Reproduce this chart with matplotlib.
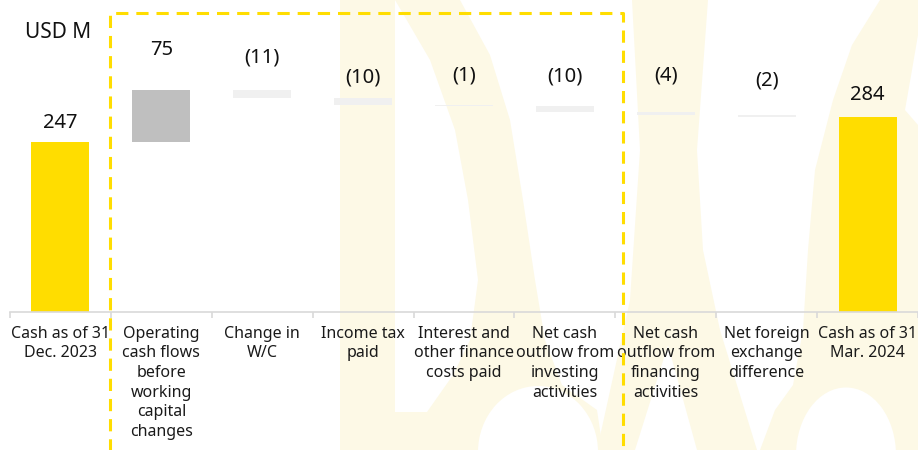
import matplotlib
matplotlib.use("Agg")
import matplotlib.pyplot as plt
from matplotlib.patches import Polygon, Ellipse
import numpy as np

plt.rcParams['font.family'] = ['Noto Sans', 'DejaVu Sans']

# ---------------- data ----------------
categories = ["Cash as of 31\nDec. 2023",
              "Operating\ncash flows\nbefore\nworking\ncapital\nchanges",
              "Change in\nW/C",
              "Income tax\npaid",
              "Interest and\nother finance\ncosts paid",
              "Net cash\noutflow from\ninvesting\nactivities",
              "Net cash\noutflow from\nfinancing\nactivities",
              "Net foreign\nexchange\ndifference",
              "Cash as of 31\nMar. 2024"]
values = [247, 75, -11, -10, -1, -10, -4, -2, 284]
kinds = ["total", "up", "down", "down", "down", "down", "down", "down", "total"]
value_labels = ["247", "75", "(11)", "(10)", "(1)", "(10)", "(4)", "(2)", "284"]

# ---------------- style ----------------
W, H, DPI = 918, 450, 100
YELLOW = "#FFDD00"
GREY = "#BFBFBF"
LIGHT = "#F0F0F0"
WM = "#FDF9E6"
label_offsets_px = [19, 40, 33, 21, 29, 29, 37, 35, 22]

fig = plt.figure(figsize=(W / DPI, H / DPI), dpi=DPI)

# background watermark axes (pixel coordinates, y downwards)
bg = fig.add_axes([0, 0, 1, 1], zorder=0)
bg.set_xlim(0, W)
bg.set_ylim(H, 0)
bg.axis("off")
left_letter = [(340, 0), (460, 0), (490, 55), (510, 120), (523, 200), (535, 280),
               (545, 340), (562, 385), (597, 410), (603, 450), (340, 450)]
gap = [(395, 0), (430, 60), (455, 130), (468, 200), (478, 280), (470, 340),
       (453, 375), (427, 412), (395, 412)]
a_letter = [(632, 0), (708, 0), (697, 150), (703, 250), (720, 330), (757, 450),
            (697, 450), (668, 345), (635, 450), (597, 450), (630, 300), (640, 150)]
s_letter = [(880, 0), (918, 0), (918, 450), (760, 450), (775, 410), (793, 385),
            (803, 330), (808, 250), (815, 170), (833, 100), (852, 45)]
s_inner = [(918, 35), (912, 70), (905, 110), (918, 125)]
for poly in (left_letter, a_letter, s_letter):
    bg.add_patch(Polygon(poly, closed=True, facecolor=WM, edgecolor="none"))
bg.add_patch(Polygon(gap, closed=True, facecolor="white", edgecolor="none"))
bg.add_patch(Polygon(s_inner, closed=True, facecolor="white", edgecolor="none"))
bg.add_patch(Ellipse((538, 452), 120, 132, facecolor="white", edgecolor="none"))
bg.add_patch(Ellipse((846, 455), 100, 135, facecolor="white", edgecolor="none"))

# main axes
ax = fig.add_axes([10 / W, (H - 312) / H, 908 / W, 312 / H], zorder=1)
ax.patch.set_alpha(0)
n = len(values)
x = np.arange(n)
bottoms, heights, colors = [], [], []
running = 0
for v, k in zip(values, kinds):
    if k == "total":
        bottoms.append(0); heights.append(v); colors.append(YELLOW); running = v
    elif k == "up":
        bottoms.append(running); heights.append(v); colors.append(GREY); running += v
    else:
        bottoms.append(running + v); heights.append(-v); colors.append(LIGHT); running += v
ax.bar(x, heights, bottom=bottoms, width=0.575, color=colors, edgecolor="none")

ax.set_xlim(-0.5, n - 0.5)
ax.set_ylim(0, 312 / 0.688)
for i in range(n):
    top = bottoms[i] + heights[i]
    ax.annotate(value_labels[i], (x[i], top), xytext=(0, label_offsets_px[i] * 72 / DPI),
                textcoords="offset points", ha="center", va="center",
                fontsize=14.5, color="#111111")

for s in ("top", "right", "left"):
    ax.spines[s].set_visible(False)
ax.spines["bottom"].set_color("#D9D9D9")
ax.spines["bottom"].set_linewidth(1.2)
ax.set_yticks([])
ax.set_xticks(x)
ax.set_xticklabels(categories, fontsize=11.5, color="#1a1a1a", linespacing=1.3)
ax.tick_params(axis="x", which="major", length=0, pad=10)
ax.set_xticks(np.arange(n + 1) - 0.5, minor=True)
ax.tick_params(axis="x", which="minor", length=4, color="#D9D9D9", width=1.2)

# overlay: title and dashed box in pixel coordinates
ov = fig.add_axes([0, 0, 1, 1], zorder=2)
ov.set_xlim(0, W)
ov.set_ylim(H, 0)
ov.axis("off")
ov.patch.set_alpha(0)
ov.text(25, 33, "USD M", fontsize=15, ha="left", va="center", color="#111111")
ov.plot([110, 110, 623, 623], [455, 13, 13, 455], color="#FFDD00", lw=2.2,
        linestyle=(0, (4, 2.6)), solid_capstyle="butt")

fig.savefig("out.png", dpi=DPI)
